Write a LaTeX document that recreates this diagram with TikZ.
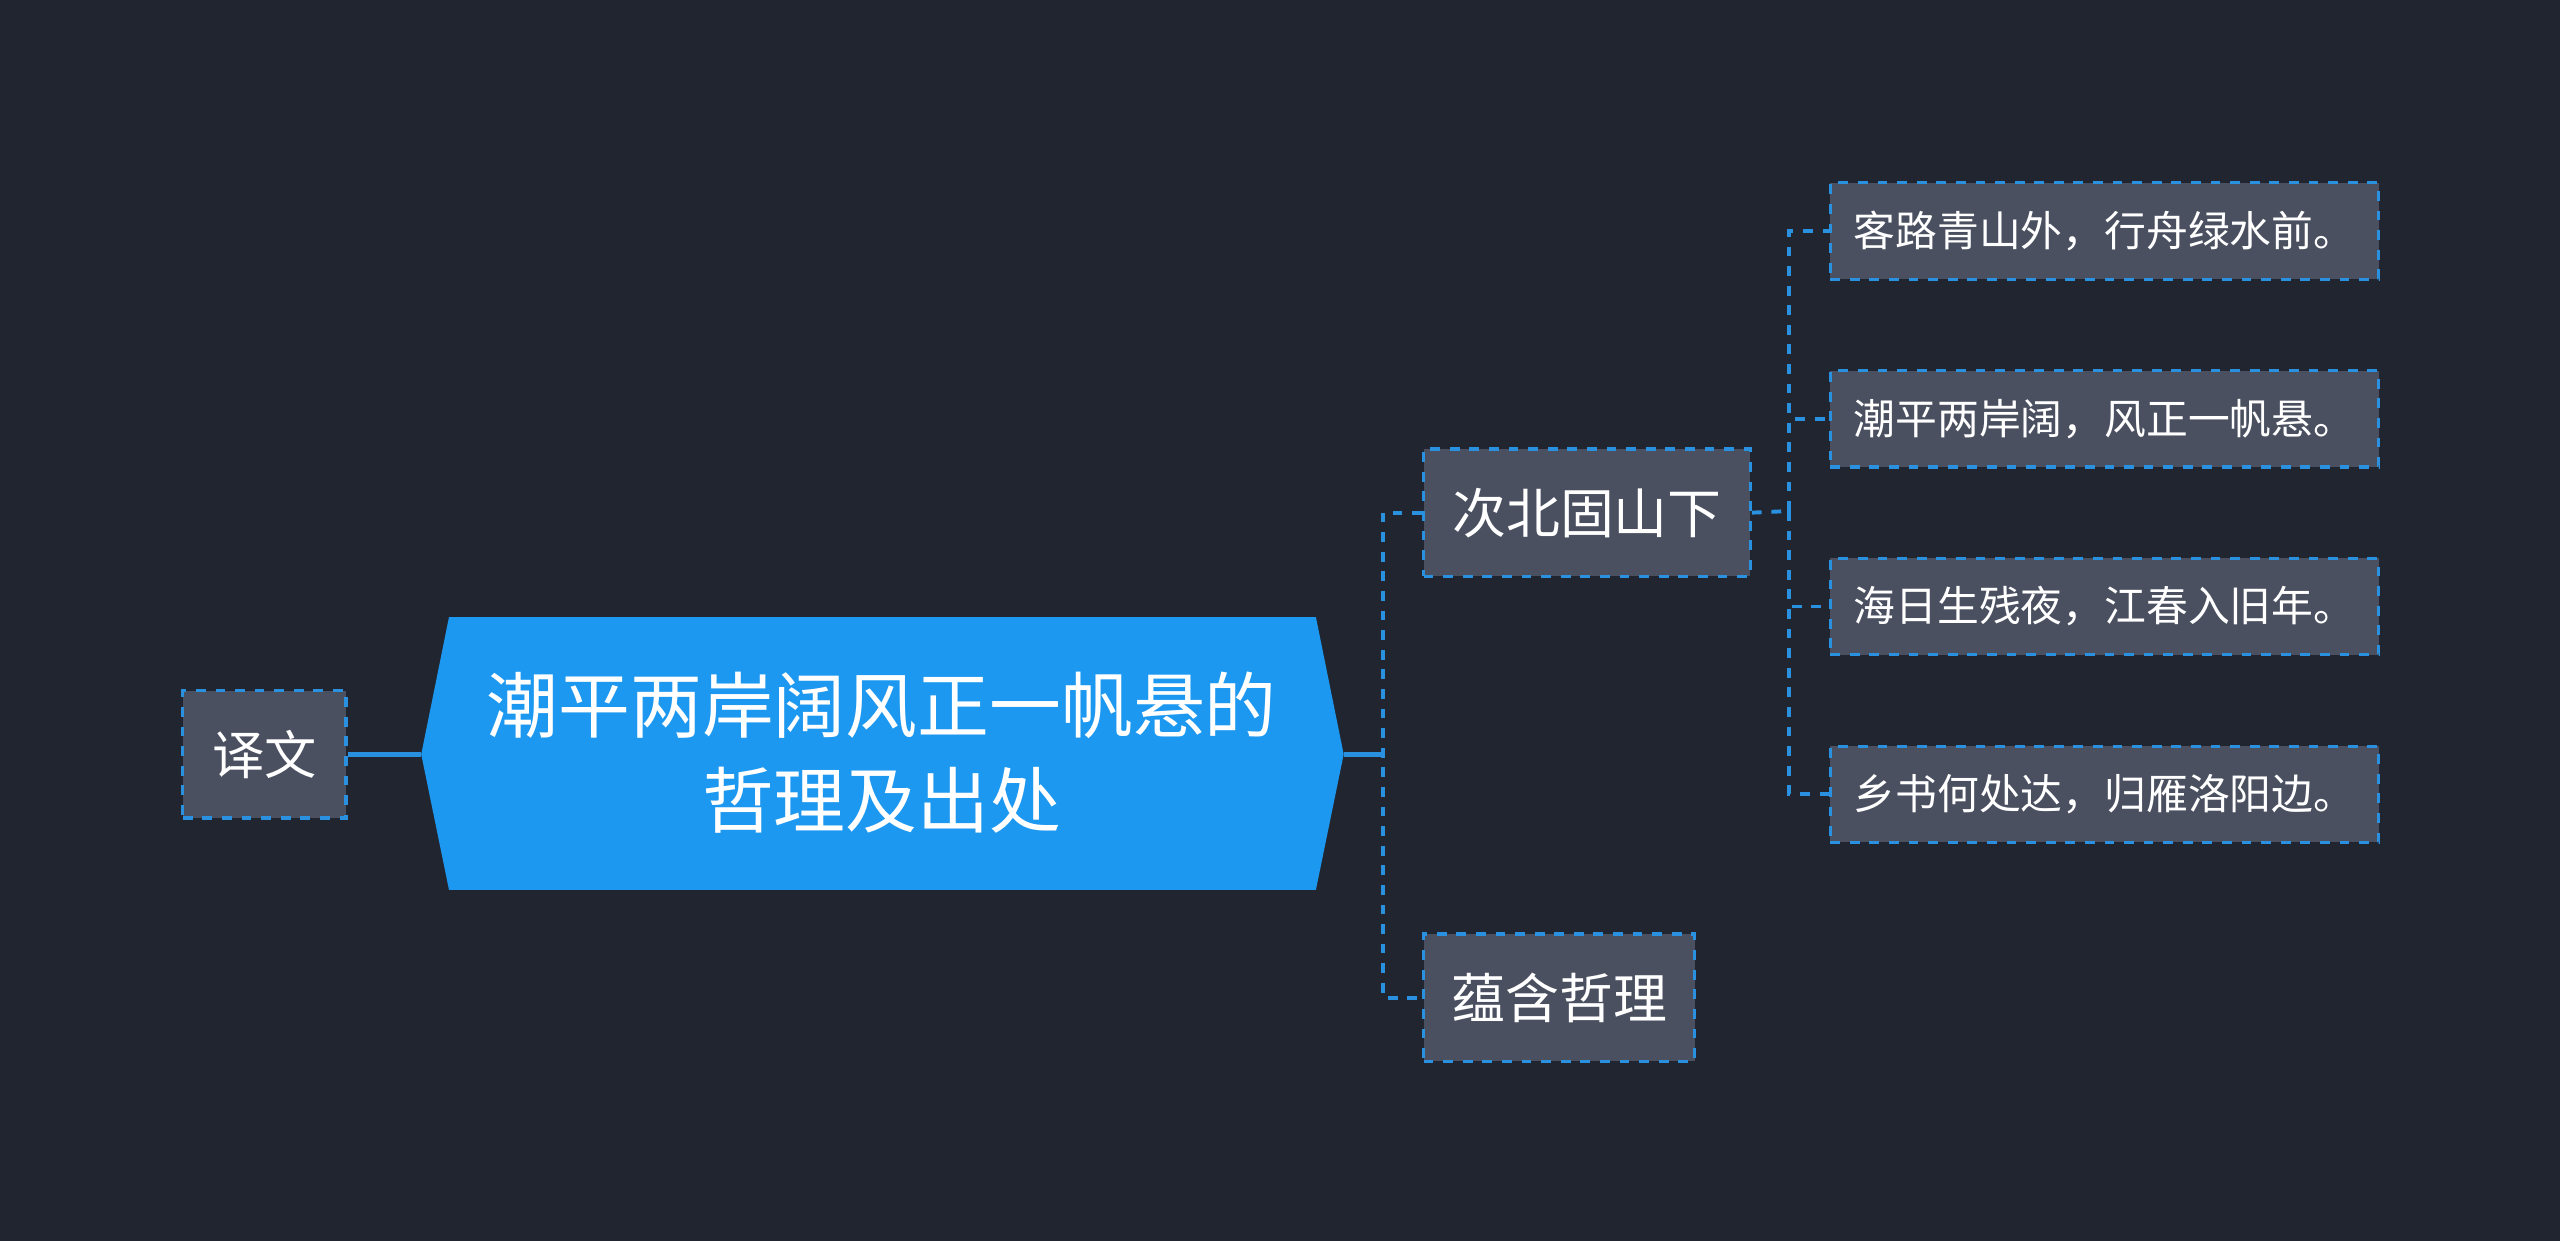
\documentclass[tikz,border=0pt]{standalone}
\usepackage{fontspec}
\setmainfont{Noto Sans CJK SC}
\definecolor{bg}{HTML}{21252F}
\definecolor{hub}{HTML}{1C98F0}
\definecolor{boxf}{HTML}{4A5060}
\definecolor{ln}{HTML}{2A90E0}
\begin{document}
\begin{tikzpicture}[x=0.5pt,y=-0.5pt,
  bx/.style={draw=ln,dashed,line width=1pt,fill=boxf,text=white,inner sep=0pt,anchor=north west},
  dl/.style={draw=ln,dashed,line width=1.2pt},
  sl/.style={draw=ln,line width=1.5pt}]
\fill[bg] (0,0) rectangle (1568,760);
\useasboundingbox (0,0) rectangle (1568,760);
\fill[hub] (258,462)--(275,378)--(806,378)--(823,462)--(806,545)--(275,545)--cycle;
\node[text=white,font=\fontsize{22}{29}\selectfont,align=center] (hub) at (540,461) {潮平两岸阔风正一帆悬的\\哲理及出处};
\coordinate (hl) at (258,462); \coordinate (hr) at (823,462);
\node[bx,minimum width=50pt,minimum height=39pt,font=\fontsize{16}{16}\selectfont] (yw) at (111,422) {译文};
\draw[sl] (yw.east) -- (hl);
\node[bx,minimum width=100pt,minimum height=39pt,font=\fontsize{16.5}{16.5}\selectfont] (a) at (871,274) {次北固山下};
\node[bx,minimum width=83pt,minimum height=39pt,font=\fontsize{16.5}{16.5}\selectfont] (b) at (871,571) {蕴含哲理};
\coordinate (j1) at (847,462);
\draw[sl] (hr) -- (j1);
\draw[dl] (a.west) -| (j1) |- (b.west);
\foreach \n/\y/\t in {l1/111/客路青山外，行舟绿水前。,l2/226/潮平两岸阔，风正一帆悬。,l3/341/海日生残夜，江春入旧年。,l4/456/乡书何处达，归雁洛阳边。}{
  \node[bx,minimum width=168pt,minimum height=29.5pt,font=\fontsize{12.8}{12.8}\selectfont] (\n) at (1120,\y) {\t};
}
\coordinate (j2) at (1096,313);
\draw[dl] (a.east) -- (j2);
\foreach \n in {l1,l2,l3,l4}{ \draw[dl] (j2) |- (\n.west); }
\end{tikzpicture}
\end{document}
